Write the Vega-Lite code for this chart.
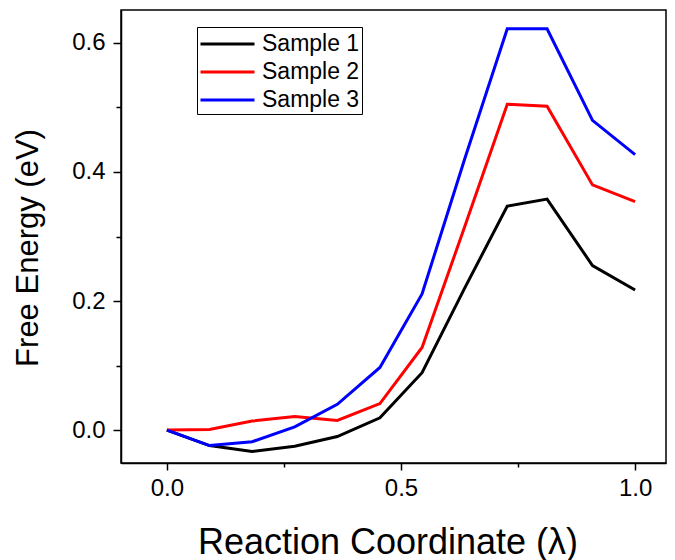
{
  "$schema": "https://vega.github.io/schema/vega-lite/v6.json",
  "width": 545,
  "height": 453,
  "autosize": {"type": "none"},
  "padding": {"left": 121, "top": 10, "right": 9, "bottom": 97},
  "background": "white",
  "config": {
    "font": "Liberation Sans",
    "view": {"stroke": "black", "strokeWidth": 1.5},
    "axis": {"grid": false, "domainColor": "black", "tickColor": "black", "labelColor": "black", "titleColor": "black", "domainWidth": 1.5, "tickWidth": 1.5}
  },
  "data": {
    "values": [
      {"lambda": 0.0, "energy": 0.0, "sample": "Sample 1"},
      {"lambda": 0.091, "energy": -0.024, "sample": "Sample 1"},
      {"lambda": 0.182, "energy": -0.033, "sample": "Sample 1"},
      {"lambda": 0.273, "energy": -0.025, "sample": "Sample 1"},
      {"lambda": 0.364, "energy": -0.010, "sample": "Sample 1"},
      {"lambda": 0.455, "energy": 0.019, "sample": "Sample 1"},
      {"lambda": 0.545, "energy": 0.089, "sample": "Sample 1"},
      {"lambda": 0.636, "energy": 0.22, "sample": "Sample 1"},
      {"lambda": 0.727, "energy": 0.347, "sample": "Sample 1"},
      {"lambda": 0.812, "energy": 0.358, "sample": "Sample 1"},
      {"lambda": 0.909, "energy": 0.255, "sample": "Sample 1"},
      {"lambda": 1.0, "energy": 0.217, "sample": "Sample 1"},
      {"lambda": 0.0, "energy": 0.0, "sample": "Sample 2"},
      {"lambda": 0.091, "energy": 0.001, "sample": "Sample 2"},
      {"lambda": 0.182, "energy": 0.014, "sample": "Sample 2"},
      {"lambda": 0.273, "energy": 0.021, "sample": "Sample 2"},
      {"lambda": 0.364, "energy": 0.015, "sample": "Sample 2"},
      {"lambda": 0.455, "energy": 0.041, "sample": "Sample 2"},
      {"lambda": 0.545, "energy": 0.128, "sample": "Sample 2"},
      {"lambda": 0.636, "energy": 0.315, "sample": "Sample 2"},
      {"lambda": 0.727, "energy": 0.505, "sample": "Sample 2"},
      {"lambda": 0.812, "energy": 0.502, "sample": "Sample 2"},
      {"lambda": 0.909, "energy": 0.380, "sample": "Sample 2"},
      {"lambda": 1.0, "energy": 0.354, "sample": "Sample 2"},
      {"lambda": 0.0, "energy": 0.0, "sample": "Sample 3"},
      {"lambda": 0.091, "energy": -0.024, "sample": "Sample 3"},
      {"lambda": 0.182, "energy": -0.018, "sample": "Sample 3"},
      {"lambda": 0.273, "energy": 0.005, "sample": "Sample 3"},
      {"lambda": 0.364, "energy": 0.040, "sample": "Sample 3"},
      {"lambda": 0.455, "energy": 0.097, "sample": "Sample 3"},
      {"lambda": 0.545, "energy": 0.211, "sample": "Sample 3"},
      {"lambda": 0.636, "energy": 0.42, "sample": "Sample 3"},
      {"lambda": 0.727, "energy": 0.622, "sample": "Sample 3"},
      {"lambda": 0.812, "energy": 0.622, "sample": "Sample 3"},
      {"lambda": 0.909, "energy": 0.480, "sample": "Sample 3"},
      {"lambda": 1.0, "energy": 0.427, "sample": "Sample 3"}
    ]
  },
  "mark": {"type": "line", "strokeWidth": 3, "strokeJoin": "miter"},
  "encoding": {
    "x": {
      "field": "lambda", "type": "quantitative",
      "scale": {"domain": [-0.098, 1.066], "nice": false, "zero": false},
      "axis": {
        "title": "Reaction Coordinate (λ)",
        "titleFontSize": 36, "titleFontWeight": "normal", "titlePadding": 25,
        "titleX": 266.5, "titleAlign": "center",
        "values": [0, 0.25, 0.5, 0.75, 1],
        "labelExpr": "round(datum.value*4) % 2 === 0 ? format(datum.value, '.1f') : ''",
        "labelFontSize": 24, "labelPadding": 6,
        "tickSize": {"condition": {"test": "round(datum.value*4) % 2 === 0", "value": 7}, "value": 4}
      }
    },
    "y": {
      "field": "energy", "type": "quantitative",
      "scale": {"domain": [-0.051, 0.651], "nice": false, "zero": false},
      "axis": {
        "title": "Free Energy (eV)",
        "titleFontSize": 31, "titleFontWeight": "normal", "titlePadding": 27,
        "titleY": 237.5, "titleAlign": "center",
        "values": [0, 0.1, 0.2, 0.3, 0.4, 0.5, 0.6],
        "labelExpr": "round(datum.value*10) % 2 === 0 ? format(datum.value, '.1f') : ''",
        "labelFontSize": 24, "labelPadding": 8,
        "tickSize": {"condition": {"test": "round(datum.value*10) % 2 === 0", "value": 8}, "value": 5}
      }
    },
    "color": {
      "field": "sample", "type": "nominal",
      "scale": {"domain": ["Sample 1", "Sample 2", "Sample 3"], "range": ["#000000", "#ff0000", "#0000ff"]},
      "legend": {
        "title": null, "orient": "none", "legendX": 76, "legendY": 17,
        "symbolType": "M-1,0H3", "symbolStrokeWidth": 3, "symbolSize": 729,
        "labelFontSize": 23, "labelColor": "black", "labelOffset": 33,
        "strokeColor": "black", "padding": 2, "rowPadding": 1
      }
    }
  }
}
